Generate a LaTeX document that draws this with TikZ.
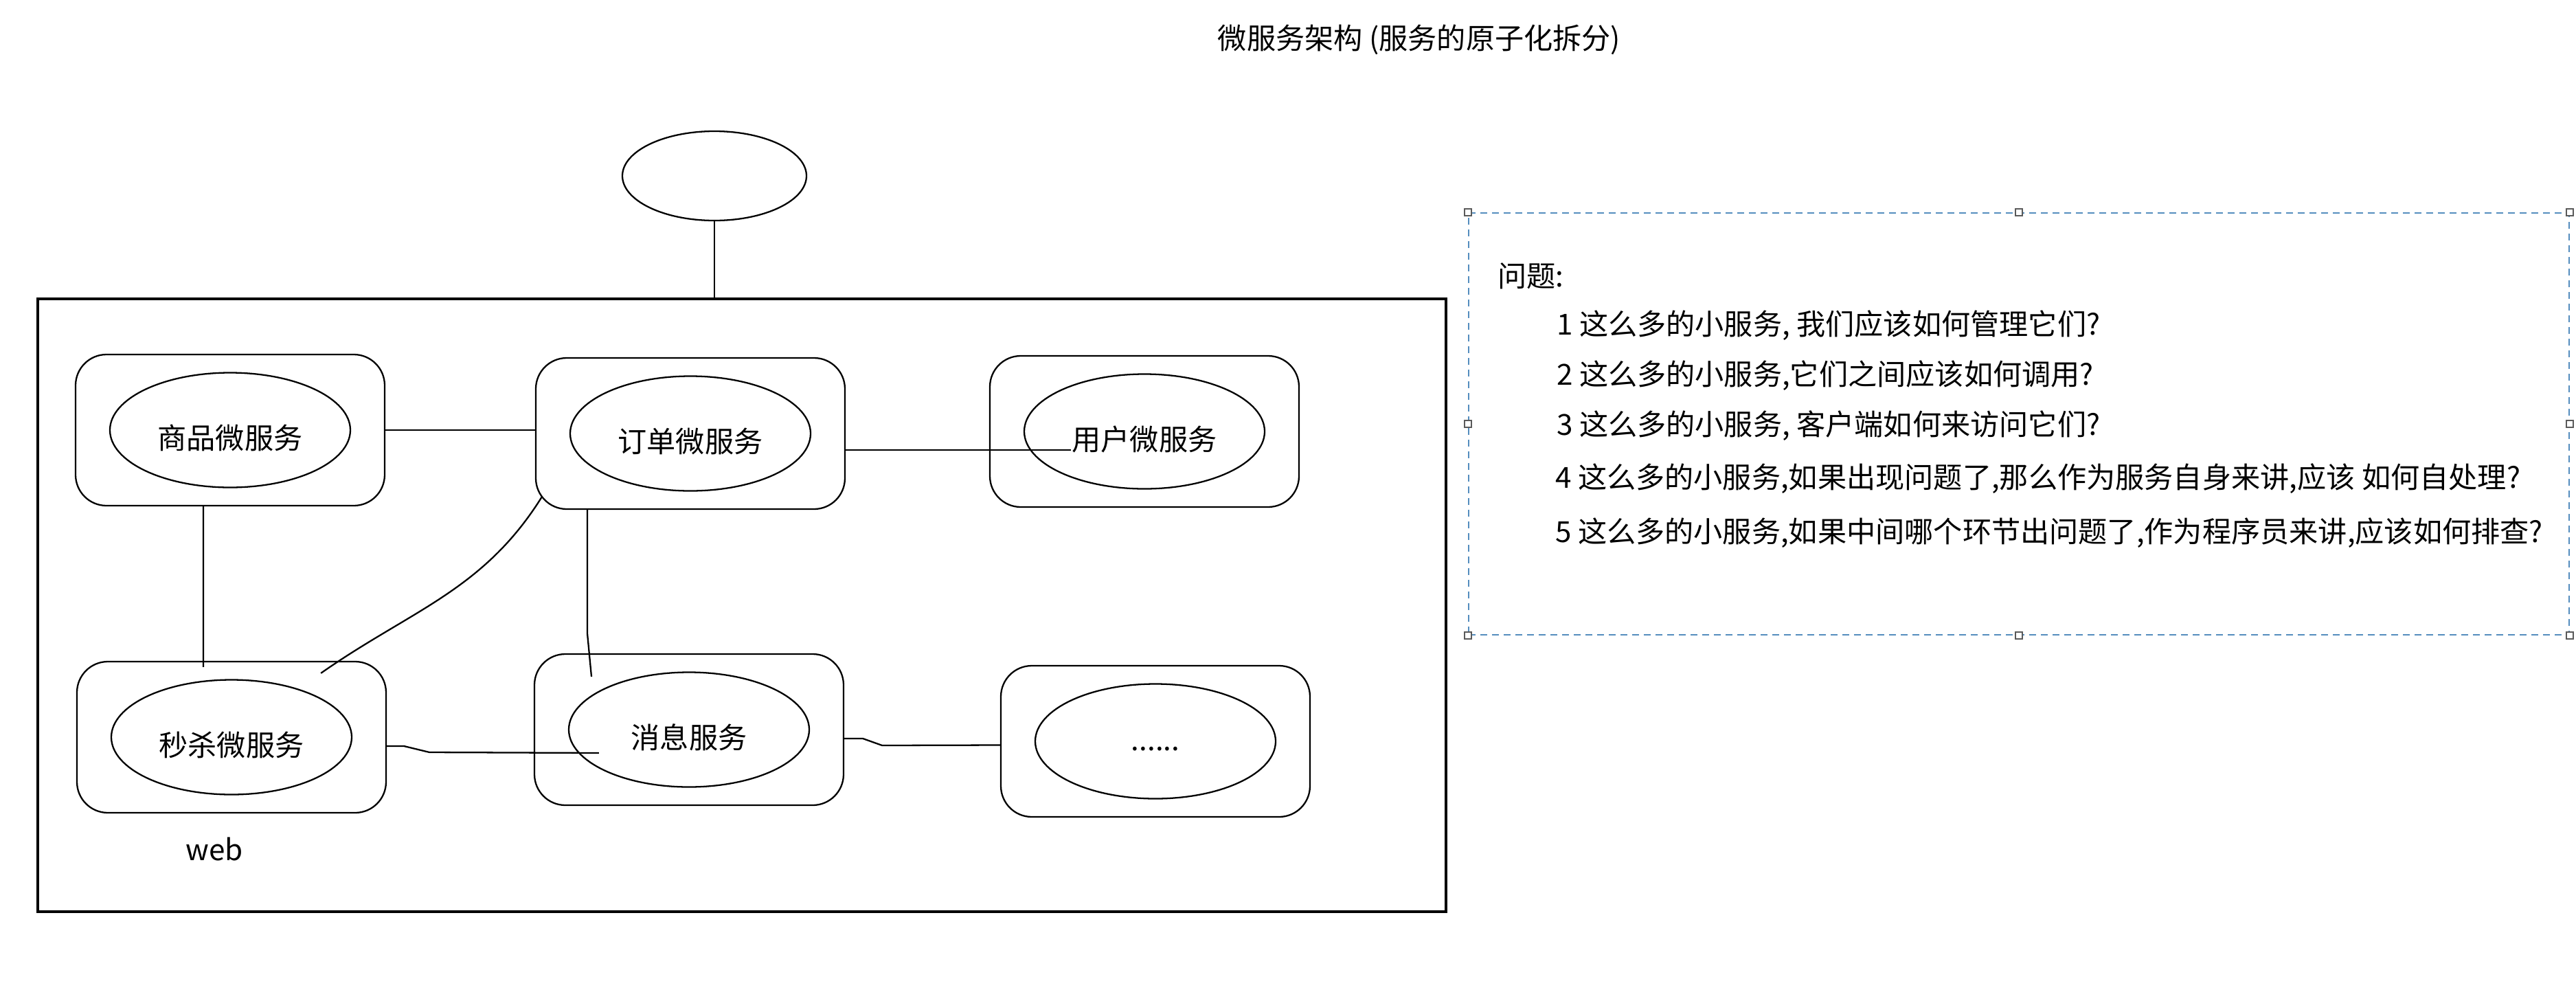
\documentclass[tikz,border=0pt]{standalone}
\usepackage{fontspec}
\newfontfamily\cjk{Noto Sans CJK SC}
\usepackage{tikz}
\usetikzlibrary{shapes.geometric,positioning}

\definecolor{selblue}{RGB}{84,141,190}
\definecolor{handlegray}{RGB}{90,90,90}

\begin{document}
\begin{tikzpicture}[font=\cjk\fontsize{12pt}{14pt}\selectfont,line width=0.65pt,
		svcbox/.style={draw,rounded corners=0.45cm,minimum width=4.5cm,minimum height=2.2cm},
		svc/.style={draw,ellipse,inner sep=0pt,minimum width=3.5cm,minimum height=1.67cm},
		svclabel/.style={yshift=-0.11cm,inner sep=0pt},
		qline/.style={anchor=west,inner sep=0pt},
		handle/.style={draw=handlegray,fill=white,line width=0.5pt,inner sep=0pt,minimum size=0.1cm}]
	\useasboundingbox (0,0) rectangle (37.5,-14.4);

	\node (title) at (20.66,-0.58) {微服务架构 (服务的原子化拆分)};

	% web container and the caller on top
	\node[draw,line width=0.9pt,minimum width=20.5cm,minimum height=8.92cm] (web) at (10.80,-8.81) {};
	\node[draw,ellipse,minimum width=2.68cm,minimum height=1.3cm] (ext) at (10.40,-2.56) {};
	\node[anchor=base] (web_t) at (3.12,-12.52) {web};

	% services
	\node[svcbox] (goods_box) at (3.35,-6.26) {};
	\node[svcbox] (order_box) at (10.05,-6.31) {};
	\node[svcbox] (user_box) at (16.66,-6.28) {};
	\node[svcbox] (seckill_box) at (3.37,-10.73) {};
	\node[svcbox] (msg_box) at (10.03,-10.62) {};
	\node[svcbox] (more_box) at (16.82,-10.79) {};

	\node[svc,label={[svclabel]center:商品微服务}] (goods) at (goods_box) {};
	\node[svc,label={[svclabel]center:订单微服务}] (order) at (order_box) {};
	\node[svc,label={[svclabel,name=user_t]center:用户微服务}] (user) at (user_box) {};
	\node[svc,label={[svclabel]center:秒杀微服务}] (seckill) at (seckill_box) {};
	\node[svc,label={[svclabel]center:消息服务}] (msg) at (msg_box) {};
	\node[svc,label={[svclabel]center:......}] (more) at (more_box) {};

	% links
	\draw (ext.south) -- (ext.south |- web.north);
	\draw (goods_box.east) -- (goods_box.east -| order_box.west);
	\draw (order_box.east |- user_t.base) -- (user_t.base west);
	\draw ([xshift=-0.39cm]goods_box.south) -- ([xshift=-0.41cm,yshift=-0.09cm]seckill_box.north);
	\draw ([shift={(0.1,0.19)}]order_box.south west) to[out=238,in=35] ([shift={(-0.96,-0.18)}]seckill_box.north east);
	\draw ([xshift=-1.5cm]order_box.south) -- ++(0,-1.8) -- ([shift={(-1.42,-0.34)}]msg_box.north);
	\draw ([yshift=-0.13cm]seckill_box.east) -- ++(0.25,0) -- ++(0.37,-0.09) -- ([shift={(0.45,-0.34)}]msg.west);
	\draw ([yshift=-0.13cm]msg_box.east) -- ++(0.27,0) -- ++(0.28,-0.1) -- ([yshift=-0.055cm]more_box.west);

	% questions
	\node[draw=selblue,dash pattern=on 0.1cm off 0.07cm,line width=0.55pt,minimum width=16.02cm,minimum height=6.14cm] (qbox) at (29.39,-6.17) {};
	\foreach \a in {north west,north,north east,east,south east,south,south west,west}
		\node[handle] at (qbox.\a) {};

	\node[qline] (q0) at (21.79,-4.02) {问题:};
	\node[qline] (q1) at (22.65,-4.74) {1 这么多的小服务, 我们应该如何管理它们?};
	\node[qline] (q2) at (22.65,-5.47) {2 这么多的小服务,它们之间应该如何调用?};
	\node[qline] (q3) at (22.65,-6.20) {3 这么多的小服务, 客户端如何来访问它们?};
	\node[qline] (q4) at (22.63,-6.97) {4 这么多的小服务,如果出现问题了,那么作为服务自身来讲,应该 如何自处理?};
	\node[qline] (q5) at (22.63,-7.76) {5 这么多的小服务,如果中间哪个环节出问题了,作为程序员来讲,应该如何排查?};
\end{tikzpicture}
\end{document}
